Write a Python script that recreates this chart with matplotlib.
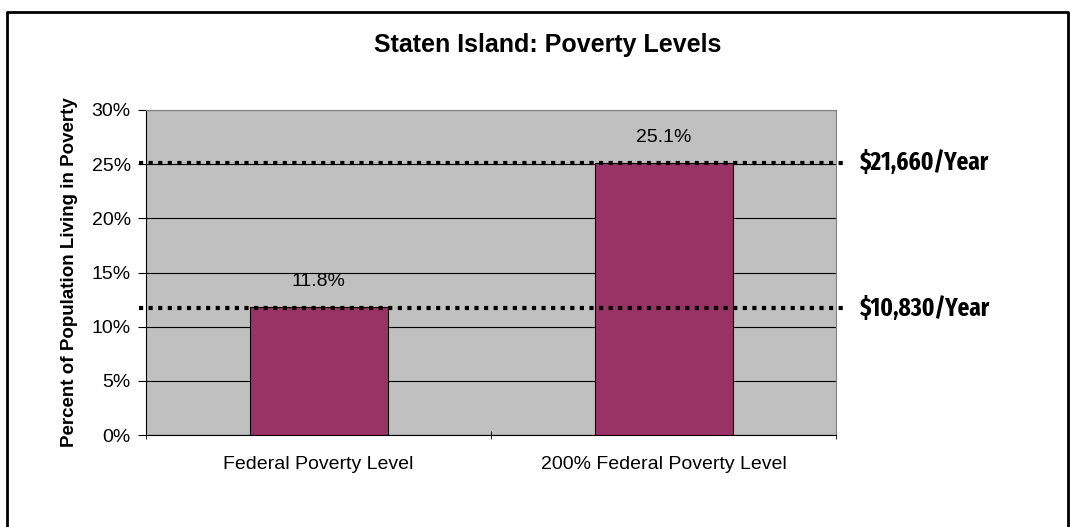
import numpy as np
import matplotlib.pyplot as plt
from matplotlib.lines import Line2D
from matplotlib.ticker import FuncFormatter

categories = ['Federal Poverty Level', '200% Federal Poverty Level']
values = [11.8, 25.1]
thresholds = [25.1, 11.7]
threshold_labels = ['$21,660/Year', '$10,830/Year']

plt.rcParams['font.family'] = ['Liberation Sans', 'DejaVu Sans']
narrow_fonts = ['Fira Sans Extra Condensed', 'PT Sans Narrow', 'Liberation Sans']

fig = plt.figure(figsize=(10.71, 5.27), dpi=100)
ax = fig.add_axes([146/1071, 1-435/527, 690/1071, 325/527])

x = np.arange(len(categories))
ax.set_facecolor('#C0C0C0')
ax.bar(x, values, width=0.4, color='#993366', edgecolor='black', linewidth=0.8, zorder=3)
for xi, v in zip(x, values):
    ax.text(xi, v + 2.4, f'{v}%', ha='center', va='center', fontsize=14)

ax.set_xlim(-0.5, 1.5)
ax.set_ylim(0, 30)
ax.set_yticks(np.arange(0, 31, 5))
ax.yaxis.set_major_formatter(FuncFormatter(lambda v, p: f'{v:.0f}%'))
ax.grid(axis='y', color='black', linewidth=0.8, zorder=1)
ax.set_xticks(x)
ax.set_xticklabels(categories, fontsize=14)
ax.set_xticks([-0.5, 0.5, 1.5], minor=True)
ax.tick_params(axis='x', which='major', length=0, pad=15)
ax.tick_params(axis='x', which='minor', length=6, direction='inout', color='black')
ax.tick_params(axis='y', length=6, direction='out', labelsize=14, pad=5)
for s in ['top', 'right']:
    ax.spines[s].set_color('#808080')
for s in ['left', 'bottom']:
    ax.spines[s].set_color('black')

ax.set_ylabel('Percent of Population Living in Poverty', fontsize=13.5, fontweight='bold', labelpad=10)

# dotted threshold lines extending past the plot
for t, lab in zip(thresholds, threshold_labels):
    ax.plot([-0.52, 1.53], [t, t], ls=(0, (1, 1.3)), color='black', lw=3, clip_on=False, zorder=4)
    ax.text(1.57, t, lab, ha='left', va='center', fontsize=18, fontweight='bold',
            family=narrow_fonts, transform=ax.transData, clip_on=False)

fig.text(548/1071, 1-45/527, 'Staten Island: Poverty Levels', ha='center', va='center',
         fontsize=18, fontweight='bold')

# outer frame (left, top, right)
fig.add_artist(Line2D([7/1071, 7/1071, 1068/1071, 1068/1071], [0, 1-12/527, 1-12/527, 0],
                      transform=fig.transFigure, color='black', lw=2))

fig.savefig('out.png', dpi=100)
